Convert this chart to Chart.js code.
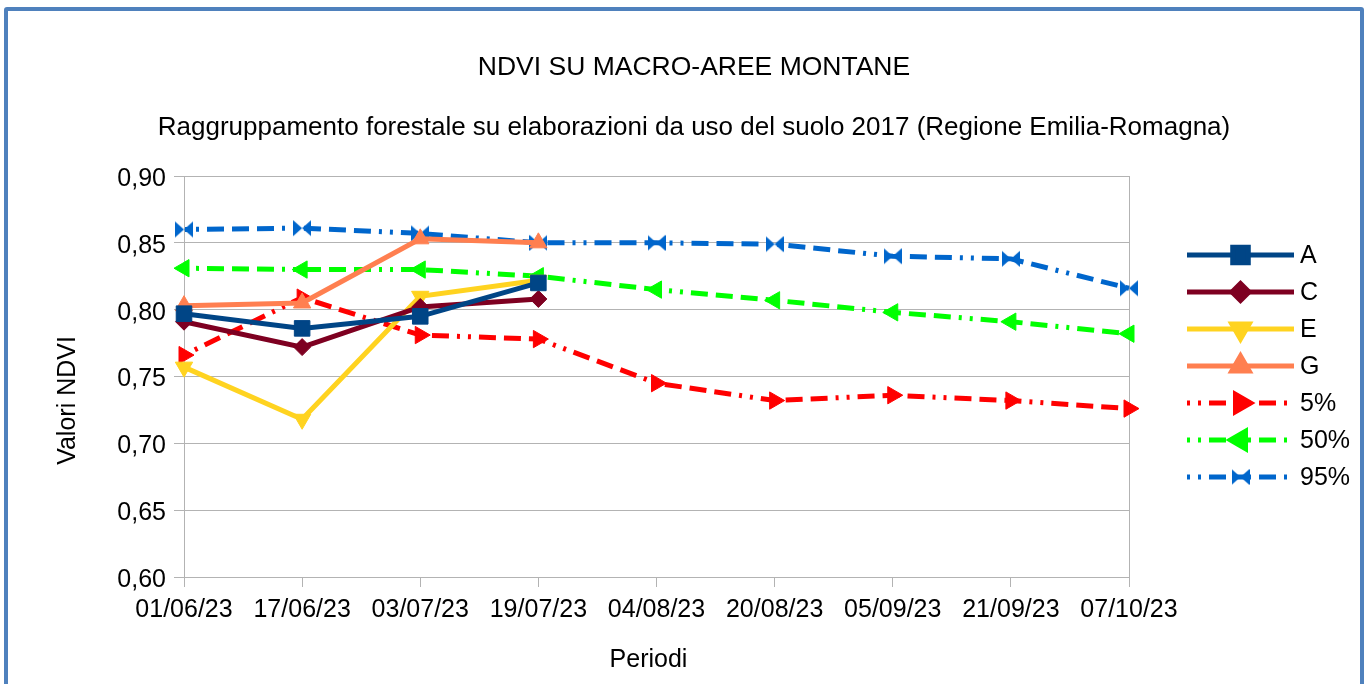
<!DOCTYPE html>
<html>
<head>
<meta charset="utf-8">
<script src="https://cdn.jsdelivr.net/npm/chart.js@4.4.1/dist/chart.umd.min.js"></script>
<style>
  body { margin: 0; background: #fff; }
  #wrap { position: relative; width: 1366px; height: 684px; overflow: hidden; }
  #frame {
    position: absolute; left: 4px; top: 7px; width: 1352px; height: 720px;
    border: 4px solid #4f81bd; border-radius: 3px; pointer-events: none;
  }
</style>
</head>
<body>
<div id="wrap">
  <canvas id="chart" width="1366" height="684"></canvas>
  <div id="frame"></div>
</div>
<script>
// periodi (asse x)
const periodi = ["01/06/23", "17/06/23", "03/07/23", "19/07/23", "04/08/23",
  "20/08/23", "05/09/23", "21/09/23", "07/10/23"];

// macro-aree (solo le prime 4 date)
const serieA = [0.797, 0.786, 0.795, 0.820];
const serieC = [0.791, 0.772, 0.802, 0.808];
const serieE = [0.757, 0.718, 0.810, 0.822];
const serieG = [0.803, 0.805, 0.853, 0.850];

// percentili
const perc5 = [0.766, 0.809, 0.781, 0.778, 0.745, 0.732, 0.736, 0.732, 0.726];
const perc50 = [0.831, 0.830, 0.830, 0.825, 0.815, 0.807, 0.798, 0.791, 0.782];
const perc95 = [0.860, 0.861, 0.857, 0.850, 0.850, 0.849, 0.840, 0.838, 0.816];

const yTicks = { min: 0.6, max: 0.9, step: 0.05 };

const GRID = "#b3b3b3";
const FONT = "'Liberation Sans', Arial, sans-serif";
const DASH = [17, 8, 17, 8, 17, 8, 3, 8, 3, 8];

// marker a "farfalla" per il 95%
function bowtie(color) {
  const c = document.createElement("canvas");
  c.width = 18;
  c.height = 18;
  const g = c.getContext("2d");
  g.fillStyle = color;
  g.beginPath();
  g.moveTo(0, 1); g.lineTo(9, 9); g.lineTo(0, 17); g.closePath();
  g.moveTo(18, 1); g.lineTo(9, 9); g.lineTo(18, 17); g.closePath();
  g.fill();
  return c;
}

function solid(label, data, color, style, radius, rot) {
  return {
    label, data,
    borderColor: color, backgroundColor: color,
    borderWidth: 5,
    pointStyle: style, pointRadius: radius, pointRotation: rot || 0,
    pointBorderWidth: 1, pointBorderColor: color, pointBackgroundColor: color,
    tension: 0,
  };
}

function dashed(label, data, color, style, radius, rot) {
  const d = solid(label, data, color, style, radius, rot);
  d.borderDash = DASH;
  d.borderDashOffset = 74;
  return d;
}

const datasets = [
  solid("A", serieA, "#004586", "rect", 11),
  solid("C", serieC, "#7e0021", "rectRot", 8.5),
  solid("E", serieE, "#ffd320", "triangle", 10, 180),
  solid("G", serieG, "#ff7f50", "triangle", 10),
  dashed("5%", perc5, "#ff0000", "triangle", 10, 90),
  dashed("50%", perc50, "#00ff00", "triangle", 10, -90),
  dashed("95%", perc95, "#0066cc", bowtie("#0066cc"), 9),
];

// legenda con linea + marker, a destra
const legendPlugin = {
  id: "sideLegend",
  afterDraw(chart) {
    const { ctx, chartArea } = chart;
    const x0 = chartArea.right + 58;
    const x1 = chartArea.right + 165;
    const xm = (x0 + x1) / 2;
    chart.data.datasets.forEach((ds, i) => {
      const y = chartArea.top + 79 + i * 37;
      ctx.save();
      ctx.strokeStyle = ds.borderColor;
      ctx.lineWidth = ds.borderWidth;
      ctx.setLineDash(ds.borderDash || []);
      ctx.lineDashOffset = ds.borderDash ? 75 : 0;
      ctx.beginPath();
      ctx.moveTo(x0, y);
      ctx.lineTo(x1, y);
      ctx.stroke();
      ctx.setLineDash([]);
      ctx.fillStyle = ds.borderColor;
      Chart.helpers.drawPoint(ctx, {
        pointStyle: ds.pointStyle, radius: ds.pointRadius,
        rotation: ds.pointRotation, borderWidth: 1,
      }, xm, y);
      ctx.fillStyle = "#000";
      ctx.font = "25px " + FONT;
      ctx.textAlign = "left";
      ctx.textBaseline = "middle";
      ctx.fillText(ds.label, x1 + 6, y + 1);
      ctx.restore();
    });
  },
};

// titoli degli assi
const axisTitles = {
  id: "axisTitles",
  afterDraw(chart) {
    const { ctx, chartArea } = chart;
    ctx.save();
    ctx.fillStyle = "#000";
    ctx.font = "25px " + FONT;
    ctx.textAlign = "center";
    ctx.textBaseline = "middle";
    ctx.fillText("Periodi", (chartArea.left + chartArea.right) / 2 - 8, chartArea.bottom + 83);
    ctx.translate(chartArea.left - 116, (chartArea.top + chartArea.bottom) / 2 + 24);
    ctx.rotate(-Math.PI / 2);
    ctx.fillText("Valori NDVI", 0, 0);
    ctx.restore();
  },
};

Chart.defaults.font.family = FONT;
Chart.defaults.font.size = 25;
Chart.defaults.color = "#000";

new Chart(document.getElementById("chart"), {
  type: "line",
  data: { labels: periodi, datasets },
  plugins: [legendPlugin, axisTitles],
  options: {
    responsive: false,
    animation: false,
    layout: { padding: { left: 22, right: 0, top: 0, bottom: 0 } },
    plugins: {
      legend: { display: false },
      tooltip: { enabled: false },
      title: {
        display: true,
        text: "NDVI SU MACRO-AREE MONTANE",
        font: { size: 26.5, weight: "normal" },
        color: "#000",
        padding: { top: 52.1, bottom: 0 },
      },
      subtitle: {
        display: true,
        text: "Raggruppamento forestale su elaborazioni da uso del suolo 2017 (Regione Emilia-Romagna)",
        font: { size: 26, weight: "normal" },
        color: "#000",
        padding: { top: 28.5, bottom: 32.4 },
      },
    },
    scales: {
      x: {
        offset: false,
        grid: { drawOnChartArea: false, tickLength: 10, color: GRID },
        border: { color: GRID, width: 1 },
        ticks: { autoSkip: false, maxRotation: 0, padding: 8 },
        afterFit: (s) => { s.height = 107; },
      },
      y: {
        min: yTicks.min,
        max: yTicks.max,
        grid: { color: GRID, tickLength: 10 },
        border: { color: GRID },
        ticks: {
          stepSize: yTicks.step,
          padding: 8,
          labelOffset: 3,
          callback: (v) => v.toFixed(2).replace(".", ","),
        },
        afterFit: (s) => { s.width = 162; },
      },
      y2: {
        type: "linear",
        position: "right",
        grid: { drawOnChartArea: false, drawTicks: false },
        border: { color: GRID },
        ticks: { display: false },
        afterFit: (s) => { s.width = 237; },
      },
    },
  },
});
</script>
</body>
</html>
